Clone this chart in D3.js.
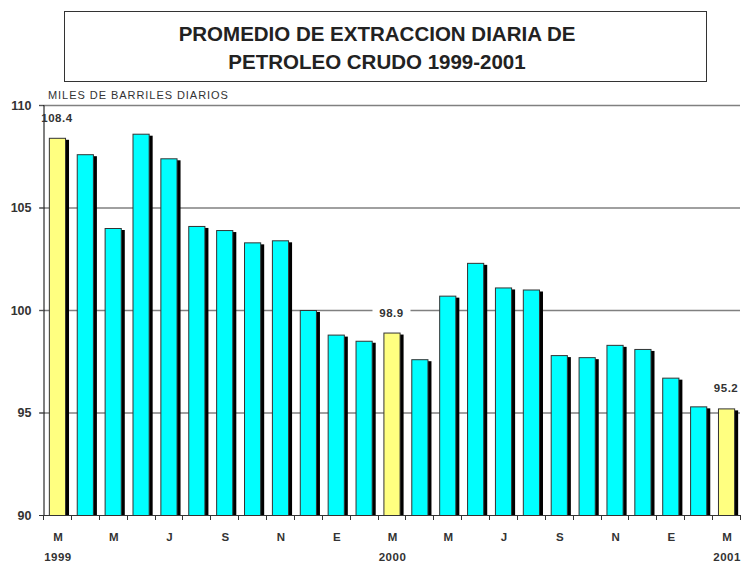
<!DOCTYPE html>
<html>
<head>
<meta charset="utf-8">
<script src="https://cdn.jsdelivr.net/npm/d3@7"></script>
<style>
  body { margin: 0; background: #fff; }
  svg { display: block; font-family: "Liberation Sans", Arial, sans-serif; }
</style>
</head>
<body>
<script>
// monthly values, March 1999 to March 2001
const months = ["Mar99","Abr99","May99","Jun99","Jul99","Ago99","Sep99","Oct99","Nov99","Dic99",
                "Ene00","Feb00","Mar00","Abr00","May00","Jun00","Jul00","Ago00","Sep00","Oct00",
                "Nov00","Dic00","Ene01","Feb01","Mar01"];
const values = [108.4, 107.6, 104.0, 108.6, 107.4, 104.1, 103.9, 103.3, 103.4, 100.0,
                98.8, 98.5, 98.9, 97.6, 100.7, 102.3, 101.1, 101.0, 97.8, 97.7,
                98.3, 98.1, 96.7, 95.3, 95.2];
const monthLetters = ["M","","M","","J","","S","","N","","E","","M","","M","","J","","S","","N","","E","","M"];
const yearLabels = {0: "1999", 12: "2000", 24: "2001"};
const highlighted = [0, 12, 24];
const yTicks = [90, 95, 100, 105, 110];

const W = 741, H = 563;
const plotLeft = 43, plotRight = 740, plotTop = 105, plotBottom = 515;

const svg = d3.select("body").append("svg")
  .attr("width", W)
  .attr("height", H);

// title box
svg.append("rect")
  .attr("x", 64.5).attr("y", 11.5)
  .attr("width", 642).attr("height", 70)
  .attr("fill", "#fff").attr("stroke", "#333").attr("stroke-width", 1);

svg.append("text")
  .attr("x", 377).attr("y", 41)
  .attr("text-anchor", "middle")
  .attr("font-size", 20.5).attr("font-weight", "bold").attr("fill", "#222")
  .text("PROMEDIO DE EXTRACCION DIARIA DE");
svg.append("text")
  .attr("x", 377).attr("y", 69)
  .attr("text-anchor", "middle")
  .attr("font-size", 20.5).attr("font-weight", "bold").attr("fill", "#222")
  .text("PETROLEO CRUDO 1999-2001");

svg.append("text")
  .attr("x", 48).attr("y", 99)
  .attr("font-size", 11).attr("fill", "#333")
  .attr("letter-spacing", 0.95)
  .text("MILES DE BARRILES DIARIOS");

const x = d3.scaleBand()
  .domain(months)
  .range([plotLeft, plotRight])
  .paddingInner(0.42)
  .paddingOuter(0.21);

const y = d3.scaleLinear()
  .domain([90, 110])
  .range([plotBottom, plotTop]);

// gridlines
svg.append("g")
  .selectAll("line")
  .data(yTicks.filter(d => d > 90))
  .join("line")
  .attr("x1", plotLeft - 4).attr("x2", plotRight)
  .attr("y1", d => y(d) + 0.5).attr("y2", d => y(d) + 0.5)
  .attr("stroke", "#808080").attr("stroke-width", 1.3);

// y axis
const yAxis = svg.append("g")
  .attr("transform", `translate(${plotLeft + 0.5},0)`)
  .call(d3.axisLeft(y).tickValues(yTicks).tickSize(4).tickPadding(8).tickFormat(d3.format("d")));
yAxis.select(".domain").attr("stroke", "#000");
yAxis.selectAll(".tick line").attr("stroke", "#555");
yAxis.selectAll(".tick text")
  .attr("font-size", 12.5).attr("font-weight", "bold").attr("fill", "#333")
  .attr("font-family", "'Liberation Sans', Arial, sans-serif");

// shadows
svg.append("g")
  .selectAll("rect")
  .data(values)
  .join("rect")
  .attr("x", (d, i) => x(months[i]) + 4)
  .attr("y", d => y(d) + 2)
  .attr("width", x.bandwidth())
  .attr("height", d => plotBottom - y(d) - 2)
  .attr("fill", "#000");

// bars
svg.append("g")
  .selectAll("rect")
  .data(values)
  .join("rect")
  .attr("x", (d, i) => x(months[i]) + 0.5)
  .attr("y", d => y(d) + 0.5)
  .attr("width", x.bandwidth())
  .attr("height", d => plotBottom - y(d))
  .attr("fill", (d, i) => highlighted.includes(i) ? "#ffff80" : "#00ffff")
  .attr("stroke", "#333")
  .attr("stroke-width", 1);

// x axis baseline and ticks
const step = x.step();
const xTickPos = d3.range(months.length + 1).map(i => plotLeft + i * step);
svg.append("line")
  .attr("x1", plotLeft - 4).attr("x2", plotRight)
  .attr("y1", plotBottom + 0.5).attr("y2", plotBottom + 0.5)
  .attr("stroke", "#333").attr("stroke-width", 1.2);
svg.append("g")
  .selectAll("line")
  .data(xTickPos)
  .join("line")
  .attr("x1", d => Math.round(d) + 0.5).attr("x2", d => Math.round(d) + 0.5)
  .attr("y1", plotBottom).attr("y2", plotBottom + 5)
  .attr("stroke", "#333");

// month and year labels
svg.append("g")
  .selectAll("text")
  .data(monthLetters)
  .join("text")
  .attr("x", (d, i) => x(months[i]) + x.bandwidth() / 2 + 1)
  .attr("y", 541)
  .attr("text-anchor", "middle")
  .attr("font-size", 11.5).attr("font-weight", "bold").attr("fill", "#333")
  .text(d => d);

svg.append("g")
  .selectAll("text")
  .data(Object.entries(yearLabels))
  .join("text")
  .attr("x", d => x(months[+d[0]]) + x.bandwidth() / 2 + 1)
  .attr("y", 561)
  .attr("text-anchor", "middle")
  .attr("font-size", 11.5).attr("font-weight", "bold").attr("fill", "#333")
  .attr("letter-spacing", 0.5)
  .text(d => d[1]);

// value labels on highlighted bars
const labelG = svg.append("g");
highlighted.forEach(i => {
  const cx = x(months[i]) + x.bandwidth() / 2;
  const ly = y(values[i]) - 16;
  const lbl = values[i].toFixed(1);
  labelG.append("rect")
    .attr("x", cx - 19).attr("y", ly - 10)
    .attr("width", 38).attr("height", 13)
    .attr("fill", i === 0 ? "none" : "#fff");
  labelG.append("text")
    .attr("x", cx).attr("y", ly)
    .attr("text-anchor", "middle")
    .attr("font-size", 11.5).attr("font-weight", "bold").attr("fill", "#333")
    .attr("letter-spacing", 0.5)
    .text(lbl);
});
</script>
</body>
</html>
